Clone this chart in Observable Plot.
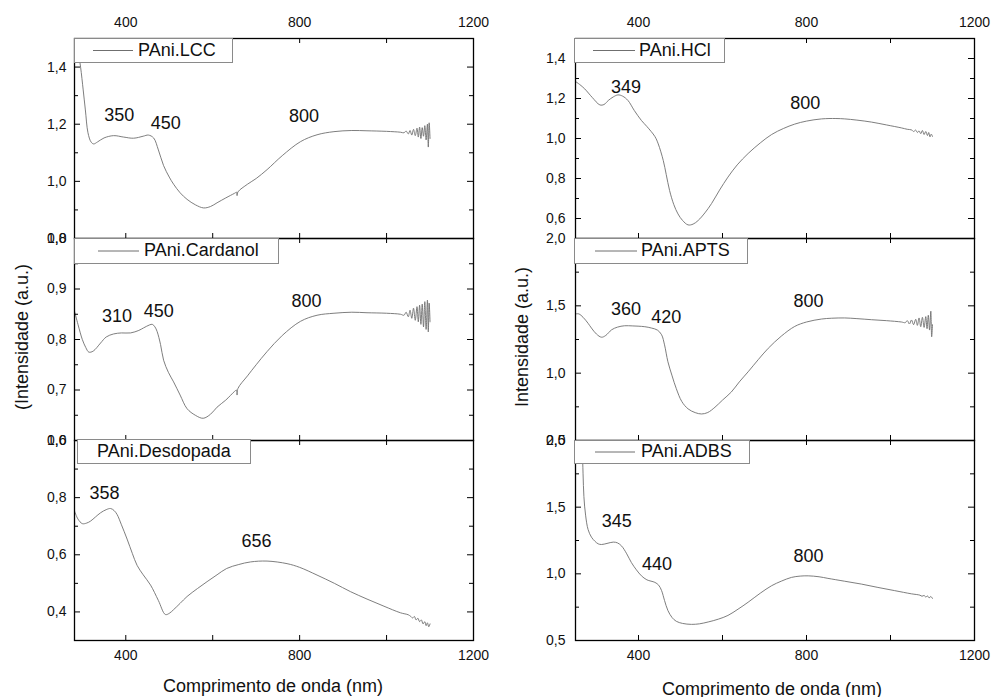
<!DOCTYPE html>
<html>
<head>
<meta charset="utf-8">
<script src="https://cdn.jsdelivr.net/npm/d3@7"></script>
<script src="https://cdn.jsdelivr.net/npm/@observablehq/plot@0.6"></script>
<style>
  body { margin: 0; background: white; }
  #chart { position: relative; width: 994px; height: 697px; background: white; overflow: hidden;
           font-family: "Liberation Sans", Arial, Helvetica, sans-serif; }
  #chart svg { position: absolute; }
  .legend { position: absolute; border: 1px solid #8a8a8a; background: white; box-sizing: border-box;
            font-size: 18px; color: #111; white-space: nowrap; }
  .legend svg { position: absolute; }
  .legend span { position: absolute; top: 50%; transform: translateY(-52%); }
  .title { position: absolute; font-size: 18px; color: #111; white-space: nowrap; }
</style>
</head>
<body>
<div id="chart"></div>
<script>
// ---------------- data ----------------
const seriesNames = ["PAni.LCC", "PAni.Cardanol", "PAni.Desdopada", "PAni.HCl", "PAni.APTS", "PAni.ADBS"];

const lccNm  = [283,290,296,302,307,313,320,326,335,350,372,395,418,440,452,464,475,487,500,510,525,541,560,579,595,610,630,650,655,656,658,680,700,725,760,802,840,879,920,955,1000,1032,1040,1045,1050,1054,1058,1062,1066,1070,1073,1076,1079,1082,1085,1088,1091,1094,1096,1098,1100];
const lccVal = [1.52,1.46,1.40,1.32,1.25,1.17,1.138,1.131,1.138,1.152,1.160,1.155,1.151,1.158,1.162,1.152,1.11,1.055,1.015,0.99,0.96,0.937,0.918,0.907,0.912,0.925,0.942,0.958,0.962,0.95,0.963,0.99,1.01,1.041,1.09,1.139,1.163,1.174,1.178,1.177,1.175,1.172,1.170,1.176,1.166,1.178,1.162,1.182,1.160,1.186,1.155,1.19,1.15,1.188,1.158,1.195,1.145,1.20,1.12,1.205,1.15];

const carNm  = [282,290,300,308,315,325,342,355,372,390,411,430,441,455,461,467,472,480,487,498,510,525,541,560,578,595,610,630,650,655,656,658,680,700,725,760,802,840,879,920,955,1000,1032,1040,1045,1050,1054,1058,1062,1066,1070,1073,1076,1079,1082,1085,1088,1091,1094,1096,1098,1100];
const carVal = [0.856,0.83,0.80,0.784,0.775,0.777,0.793,0.805,0.811,0.813,0.813,0.818,0.823,0.829,0.830,0.825,0.816,0.79,0.759,0.735,0.716,0.69,0.663,0.65,0.644,0.652,0.666,0.68,0.697,0.70,0.69,0.703,0.728,0.75,0.776,0.808,0.836,0.848,0.852,0.854,0.853,0.852,0.850,0.848,0.854,0.845,0.858,0.842,0.862,0.838,0.865,0.835,0.868,0.83,0.87,0.825,0.875,0.82,0.878,0.815,0.872,0.835];

const desNm  = [282,290,300,310,319,330,342,355,365,373,380,390,403,415,426,440,457,475,491,500,510,525,541,565,587,610,632,660,687,725,771,800,840,880,917,955,994,1032,1050,1055,1060,1064,1068,1072,1076,1080,1084,1088,1091,1094,1097,1100];
const desVal = [0.753,0.725,0.709,0.711,0.718,0.732,0.747,0.758,0.762,0.755,0.741,0.705,0.655,0.605,0.563,0.53,0.494,0.44,0.391,0.395,0.408,0.43,0.454,0.482,0.506,0.53,0.552,0.566,0.575,0.578,0.569,0.556,0.529,0.50,0.471,0.445,0.420,0.397,0.39,0.385,0.379,0.384,0.372,0.378,0.366,0.372,0.358,0.366,0.352,0.362,0.348,0.358];

const hclNm  = [250,260,272,290,308,318,328,340,351,362,375,390,407,420,439,447,459,466,474,484,494,505,518,530,542,558,574,593,613,635,661,690,717,745,772,800,836,870,891,920,955,990,1026,1040,1050,1055,1060,1064,1068,1072,1076,1080,1084,1088,1091,1094,1097,1100];
const hclVal = [1.285,1.27,1.248,1.205,1.168,1.17,1.19,1.208,1.218,1.212,1.19,1.14,1.09,1.06,1.01,0.973,0.89,0.82,0.74,0.67,0.623,0.59,0.568,0.572,0.59,0.628,0.675,0.742,0.807,0.868,0.925,0.978,1.02,1.05,1.072,1.087,1.098,1.10,1.098,1.092,1.082,1.068,1.053,1.046,1.043,1.035,1.042,1.03,1.038,1.024,1.040,1.02,1.035,1.015,1.03,1.008,1.022,1.01];

const aptNm  = [250,258,268,280,288,300,312,322,336,350,367,385,399,415,431,445,455,462,470,480,490,503,518,535,550,565,582,600,621,640,661,685,709,740,772,800,836,860,891,920,955,990,1026,1035,1040,1045,1050,1055,1060,1064,1068,1072,1076,1080,1084,1087,1090,1093,1096,1098,1100];
const aptVal = [1.44,1.44,1.415,1.37,1.335,1.29,1.267,1.28,1.322,1.342,1.352,1.351,1.349,1.345,1.335,1.32,1.285,1.21,1.085,0.98,0.885,0.79,0.735,0.707,0.697,0.708,0.747,0.80,0.86,0.935,1.01,1.10,1.185,1.275,1.347,1.38,1.402,1.408,1.41,1.405,1.397,1.39,1.38,1.375,1.39,1.365,1.395,1.36,1.40,1.355,1.41,1.345,1.415,1.34,1.42,1.33,1.43,1.32,1.46,1.27,1.36];

const adbNm  = [263,266,268,270,274,280,288,296,304,312,325,340,350,360,372,383,395,407,420,439,448,455,462,470,480,490,505,526,545,566,590,613,637,661,690,717,740,764,785,804,830,851,890,931,970,1010,1050,1070,1075,1080,1084,1088,1092,1096,1100];
const adbVal = [2.1,1.95,1.75,1.58,1.44,1.332,1.275,1.245,1.225,1.22,1.228,1.238,1.232,1.208,1.15,1.085,1.03,0.985,0.955,0.936,0.915,0.874,0.80,0.725,0.672,0.644,0.628,0.621,0.625,0.639,0.66,0.688,0.735,0.787,0.855,0.911,0.945,0.973,0.983,0.985,0.978,0.966,0.945,0.923,0.898,0.874,0.85,0.84,0.832,0.838,0.826,0.834,0.82,0.83,0.815];

// peak annotations (label text, wavelength and intensity where the label sits)
const lccPeaks = ["350","450","800"], lccPeakX = [385,492,810], lccPeakY = [1.232,1.204,1.229];
const carPeaks = ["310","450","800"], carPeakX = [380,476,816], carPeakY = [0.846,0.856,0.876];
const desPeaks = ["358","656"],       desPeakX = [351,701],     desPeakY = [0.817,0.649];
const hclPeaks = ["349","800"],       hclPeakX = [370,797],     hclPeakY = [1.255,1.175];
const aptPeaks = ["360","420","800"], aptPeakX = [370,466,805], aptPeakY = [1.475,1.415,1.535];
const adbPeaks = ["345","440","800"], adbPeakX = [348,444,805], adbPeakY = [1.393,1.072,1.134];

// axes
const xDomainLeft = [282, 1200], xDomainRight = [250, 1200];
const xMajor = [400, 800, 1200], xMinor = [600, 1000];
const yDomains = [[0.8,1.5],[0.6,1.0],[0.3,1.0],[0.5,1.5],[0.5,2.0],[0.5,2.0]];
const yMajors = [[0.8,1.0,1.2,1.4],[0.6,0.7,0.8,0.9,1.0],[0.4,0.6,0.8,1.0],[0.6,0.8,1.0,1.2,1.4],[0.5,1.0,1.5,2.0],[0.5,1.0,1.5,2.0]];
const yMinors = [[0.9,1.1,1.3],[0.65,0.75,0.85,0.95],[0.5,0.7,0.9],[0.7,0.9,1.1,1.3],[0.75,1.25,1.75],[0.75,1.25,1.75]];
const xTitle = "Comprimento de onda (nm)";
const yTitleLeft = "(Intensidade (a.u.)";
const yTitleRight = "Intensidade (a.u.)";

// ---------------- drawing ----------------
const FONT = '"Liberation Sans", Arial, Helvetica, sans-serif';
const chart = document.getElementById("chart");
const fmt = d => d.toFixed(1).replace(".", ",");
const zip = (a, b) => a.map((v, i) => ({nm: v, val: b[i]}));
const zipLab = (t, x, y) => t.map((s, i) => ({t: s, x: x[i], y: y[i]}));

const series = [zip(lccNm,lccVal), zip(carNm,carVal), zip(desNm,desVal), zip(hclNm,hclVal), zip(aptNm,aptVal), zip(adbNm,adbVal)];
const peaks = [zipLab(lccPeaks,lccPeakX,lccPeakY), zipLab(carPeaks,carPeakX,carPeakY), zipLab(desPeaks,desPeakX,desPeakY),
               zipLab(hclPeaks,hclPeakX,hclPeakY), zipLab(aptPeaks,aptPeakX,aptPeakY), zipLab(adbPeaks,adbPeakX,adbPeakY)];

const cols = [
  {left: 0,   width: 494, ml: 74, mr: 21, xDomain: xDomainLeft,  pad: 8},
  {left: 494, width: 500, ml: 81, mr: 20, xDomain: xDomainRight, pad: 10}
];
const rows = [
  {top: 0,   height: 240, mt: 38, mb: 2},
  {top: 236, height: 206, mt: 2,  mb: 2},
  {top: 438, height: 259, mt: 2,  mb: 57}
];

function panel(ci, ri) {
  const c = cols[ci], r = rows[ri], k = ci * 3 + ri;
  const iw = c.width - c.ml - c.mr, ih = r.height - r.mt - r.mb;
  const xTicks = [...xMajor, ...xMinor];
  const marks = [
    Plot.line(series[k], {x: "nm", y: "val", stroke: "#6f6f6f", strokeWidth: 0.9, curve: "catmull-rom", clip: true}),
    // inward ticks
    Plot.tickX(xTicks, {x: d => d, insetTop: ih - 5, stroke: "#000"}),
    Plot.tickX(xTicks, {x: d => d, insetBottom: ih - 5, stroke: "#000"}),
    Plot.tickY(yMajors[k], {y: d => d, insetRight: iw - 6, stroke: "#000"}),
    Plot.tickY(yMinors[k], {y: d => d, insetRight: iw - 4, stroke: "#000"}),
    Plot.tickY(yMajors[k], {y: d => d, insetLeft: iw - 6, stroke: "#000"}),
    Plot.tickY(yMinors[k], {y: d => d, insetLeft: iw - 4, stroke: "#000"}),
    Plot.axisY(yMajors[k], {anchor: "left", tickSize: 0, tickPadding: c.pad, tickFormat: fmt, fontSize: 14, label: null}),
    Plot.frame({stroke: "#000", strokeWidth: 1.3}),
    Plot.text(peaks[k], {x: "x", y: "y", text: "t", fontSize: 18, fill: "#111"})
  ];
  if (ri === 0) marks.push(Plot.axisX(xMajor, {anchor: "top", tickSize: 0, tickPadding: 12, tickFormat: d => String(d), fontSize: 14, label: null}));
  if (ri === 2) marks.push(Plot.axisX(xMajor, {anchor: "bottom", tickSize: 0, tickPadding: 10, tickFormat: d => String(d), fontSize: 14, label: null}));
  const svg = Plot.plot({
    width: c.width, height: r.height,
    marginLeft: c.ml, marginRight: c.mr, marginTop: r.mt, marginBottom: r.mb,
    style: {background: "transparent", overflow: "visible", fontFamily: FONT, fontSize: "14px", color: "#111"},
    x: {domain: c.xDomain, label: null, axis: ri === 1 ? null : undefined},
    y: {domain: yDomains[k], label: null},
    marks
  });
  svg.style.left = c.left + "px";
  svg.style.top = r.top + "px";
  chart.appendChild(svg);
}
for (let ci = 0; ci < 2; ci++) for (let ri = 0; ri < 3; ri++) panel(ci, ri);

// legends (box, optional line sample, label)
const legendBoxes = [
  {x: 74,  y: 38,  w: 159, h: 25, l1: 18, l2: 58, tx: 64, line: true},
  {x: 74,  y: 238, w: 205, h: 26, l1: 23, l2: 64, tx: 70, line: true},
  {x: 77,  y: 439, w: 174, h: 25, l1: 0,  l2: 0,  tx: 20, line: false},
  {x: 574, y: 38,  w: 151, h: 25, l1: 18, l2: 60, tx: 65, line: true},
  {x: 574, y: 238, w: 174, h: 26, l1: 20, l2: 62, tx: 67, line: true},
  {x: 574, y: 440, w: 176, h: 24, l1: 20, l2: 60, tx: 67, line: true}
];
legendBoxes.forEach((b, i) => {
  const d = document.createElement("div");
  d.className = "legend";
  Object.assign(d.style, {left: b.x + "px", top: b.y + "px", width: b.w + "px", height: b.h + "px"});
  if (b.line) {
    const s = document.createElementNS("http://www.w3.org/2000/svg", "svg");
    s.setAttribute("width", b.w); s.setAttribute("height", b.h);
    s.style.left = "0px"; s.style.top = "-1px";
    const ln = document.createElementNS("http://www.w3.org/2000/svg", "line");
    ln.setAttribute("x1", b.l1); ln.setAttribute("x2", b.l2);
    ln.setAttribute("y1", b.h / 2); ln.setAttribute("y2", b.h / 2);
    ln.setAttribute("stroke", "#6f6f6f"); ln.setAttribute("stroke-width", "1");
    s.appendChild(ln); d.appendChild(s);
  }
  const t = document.createElement("span");
  t.textContent = seriesNames[i];
  t.style.left = (b.tx - 1) + "px";
  d.appendChild(t);
  chart.appendChild(d);
});

// axis titles
function title(text, cx, cy, rotate) {
  const d = document.createElement("div");
  d.className = "title";
  d.textContent = text;
  d.style.left = cx + "px"; d.style.top = cy + "px";
  d.style.transform = "translate(-50%,-50%)" + (rotate ? " rotate(-90deg)" : "");
  chart.appendChild(d);
}
title(xTitle, 273, 686, false);
title(xTitle, 772, 689, false);
title(yTitleLeft, 22, 337, true);
title(yTitleRight, 522, 337, true);
</script>
</body>
</html>
